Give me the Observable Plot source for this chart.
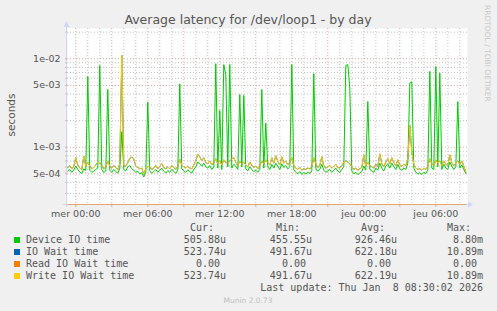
<!DOCTYPE html>
<html><head><meta charset="utf-8">
<script src="https://cdn.jsdelivr.net/npm/d3@7"></script>
<script src="https://cdn.jsdelivr.net/npm/@observablehq/plot@0.6"></script>
<style>
html,body{margin:0;padding:0;background:#F0F0F0;}
#chart{width:497px;height:311px;overflow:hidden;}
svg{display:block;}
</style></head><body><div id="chart"></div>
<script>
// Sampling: 10-minute steps, hours relative to Wednesday 00:00
const startHour = -2/3;
const stepHour = 1/6;

// Device IO time (microseconds)
const deviceIO = [
  535, 560, 520, 550, 610, 560, 525, 505, 570, 545,
  6300, 550, 520, 535, 560, 580, 8400, 560, 515, 540,
  4500, 550, 520, 560, 530, 510, 570, 1500, 560, 540,
  600, 620, 570, 550, 520, 535, 500, 515, 460, 520,
  3230, 540, 505, 530, 560, 520, 550, 580, 535, 510,
  545, 520, 560, 535, 505, 550, 5200, 570, 540, 520,
  555, 530, 510, 560, 600, 680, 650, 610, 660, 600,
  580, 620, 560, 600, 8800, 580, 2600, 560, 8600, 6600,
  600, 8600, 580, 640, 610, 560, 3950, 600, 3850, 570,
  540, 600, 560, 530, 550, 520, 560, 4500, 580, 1870,
  600, 560, 640, 580, 660, 610, 560, 650, 590, 620,
  570, 600, 8600, 560, 520, 500, 530, 490, 515, 500,
  520, 505, 540, 6800, 580, 535, 560, 640, 550, 520,
  540, 560, 520, 550, 580, 535, 520, 560, 600, 8400,
  8600, 4650, 540, 500, 520, 490, 510, 530, 610, 550,
  3280, 560, 540, 520, 580, 550, 660, 580, 540, 610,
  650, 580, 660, 600, 560, 640, 570, 550, 580, 560,
  660, 5300, 5500, 580, 520, 500, 515, 490, 520, 505,
  550, 7200, 580, 560, 8200, 600, 6900, 560, 640, 580,
  560, 680, 610, 560, 600, 3280, 580, 630, 560, 506
];

// Write IO Wait time (microseconds)
const writeWait = [
  590, 620, 570, 610, 760, 630, 580, 560, 790, 610,
  680, 610, 570, 590, 630, 680, 660, 620, 570, 600,
  700, 610, 580, 620, 590, 560, 650, 10890, 620, 610,
  670, 750, 770, 740, 610, 590, 570, 580, 495, 570,
  610, 600, 560, 580, 620, 570, 610, 650, 590, 570,
  600, 570, 620, 590, 560, 610, 730, 630, 600, 580,
  610, 580, 570, 630, 700, 830, 780, 700, 760, 670,
  650, 700, 630, 670, 740, 650, 700, 630, 720, 670,
  660, 700, 740, 760, 670, 620, 700, 650, 680, 630,
  600, 680, 620, 590, 610, 570, 620, 700, 650, 720,
  670, 630, 760, 660, 800, 690, 630, 780, 660, 700,
  630, 670, 760, 620, 580, 560, 590, 550, 570, 560,
  580, 570, 600, 760, 650, 590, 620, 780, 610, 580,
  600, 620, 580, 610, 640, 590, 580, 620, 680, 700,
  680, 650, 600, 560, 580, 550, 570, 590, 820, 610,
  680, 620, 600, 580, 640, 610, 840, 650, 600, 680,
  740, 650, 760, 670, 620, 720, 630, 610, 640, 620,
  740, 1760, 880, 640, 580, 560, 570, 550, 580, 560,
  610, 740, 650, 620, 720, 660, 700, 620, 700, 640,
  620, 820, 670, 620, 660, 700, 640, 700, 610, 524
];

// IO Wait time equals Write IO Wait (no reads); Read IO Wait is zero throughout
const ioWait = writeWait.slice();
const readWait = Array(deviceIO.length).fill(0);

// Axes
const yTicks = [5e-4, 1e-3, 5e-3, 1e-2];
const yTickLabels = ["5e-04", "1e-03", "5e-03", "1e-02"];
const yMinorGrid = [3e-4, 4e-4, 6e-4, 7e-4, 8e-4, 9e-4, 2e-3, 3e-3, 4e-3, 6e-3, 7e-3, 8e-3, 9e-3, 2e-2];
const xLabelHours = [0, 6, 12, 18, 24, 30];
const xLabels = ["mer 00:00", "mer 06:00", "mer 12:00", "mer 18:00", "jeu 00:00", "jeu 06:00"];
const xMajorGrid = [0, 3, 6, 9, 12, 15, 18, 21, 24, 27, 30];
const xMinorGrid = [1, 2, 4, 5, 7, 8, 10, 11, 13, 14, 16, 17, 19, 20, 22, 23, 25, 26, 28, 29, 31, 32];
const xDomain = [-0.69, 32.64];
const yDomain = [2.25e-4, 2.2e-2];

// Legend
const seriesNames = ["Device IO time", "IO Wait time", "Read IO Wait time", "Write IO Wait time"];
const seriesColors = ["#00CC00", "#0066B3", "#FF8000", "#FFCC00"];
const colHeaders = ["Cur:", "Min:", "Avg:", "Max:"];
const curVals = ["505.88u", "523.74u", "  0.00 ", "523.74u"];
const minVals = ["455.55u", "491.67u", "  0.00 ", "491.67u"];
const avgVals = ["926.46u", "622.18u", "  0.00 ", "622.19u"];
const maxVals = ["  8.80m", " 10.89m", "  0.00 ", " 10.89m"];
const titleText = "Average latency for /dev/loop1 - by day";
const yLabel = "seconds";
const lastUpdate = "Last update: Thu Jan  8 08:30:02 2026";
const watermark = "Munin 2.0.73";
const sideText = "RRDTOOL / TOBI OETIKER";

(function () {
const rows = deviceIO.map((v, i) => ({
  t: startHour + i * stepHour,
  dev: v * 1e-6,
  io: ioWait[i] * 1e-6,
  rd: readWait[i] * 1e-6,
  wr: writeWait[i] * 1e-6
}));

const minorCol = "#C4C4C4";
const majorCol = "#E4A6A6";

const plot = Plot.plot({
  width: 497, height: 311,
  marginLeft: 67, marginRight: 30, marginTop: 28, marginBottom: 107,
  style: {background: "transparent", fontFamily: "DejaVu Sans", fontSize: "9.5px", color: "#555", overflow: "visible"},
  x: {type: "linear", domain: xDomain, label: null},
  y: {type: "log", domain: yDomain, label: null},
  marks: [
    Plot.frame({fill: "#FFFFFF", stroke: null}),
    Plot.ruleY(yMinorGrid, {stroke: minorCol, strokeDasharray: "1,2"}),
    Plot.ruleX(xMinorGrid, {stroke: minorCol, strokeDasharray: "1,2"}),
    Plot.ruleY(yTicks, {stroke: majorCol, strokeDasharray: "1,2"}),
    Plot.ruleX(xMajorGrid, {stroke: majorCol, strokeDasharray: "1,2"}),
    Plot.axisY({ticks: yMinorGrid, tickSize: 2, tickFormat: () => "", stroke: minorCol}),
    Plot.axisY({ticks: yTicks, tickSize: 2, tickFormat: () => "", stroke: majorCol}),
    Plot.axisX({ticks: xMajorGrid, tickSize: 3, tickFormat: () => "", stroke: majorCol}),
    Plot.lineY(rows, {x: "t", y: "dev", stroke: seriesColors[0], strokeWidth: 1}),
    Plot.lineY(rows, {x: "t", y: "io", stroke: seriesColors[1], strokeWidth: 1}),
    Plot.lineY(rows, {x: "t", y: d => Math.max(d.rd, yDomain[0]), stroke: seriesColors[2], strokeWidth: 1, strokeOpacity: 0.6}),
    Plot.lineY(rows, {x: "t", y: "wr", stroke: seriesColors[3], strokeWidth: 1}),
    Plot.axisY({ticks: yTicks, tickFormat: d => yTickLabels[yTicks.indexOf(d)], tickSize: 0, tickPadding: 7, fill: "#555"}),
    Plot.axisX({ticks: xLabelHours, tickFormat: d => xLabels[xLabelHours.indexOf(d)], tickSize: 0, tickPadding: 6, fill: "#555"})
  ]
});
document.getElementById("chart").appendChild(plot);

const svg = d3.select(plot);
const xs = plot.scale("x"), ys = plot.scale("y");
const pLeft = xs.range[0], pRight = xs.range[1];
const pTop = ys.range[1], pBottom = ys.range[0];
const axisCol = "#CFD6F8";

svg.insert("line", "g").attr("x1", pLeft - 0.5).attr("x2", pLeft - 0.5).attr("y1", pTop - 5).attr("y2", pBottom + 3)
  .attr("stroke", axisCol);
svg.insert("line", "g").attr("x1", pLeft - 4).attr("x2", pRight + 3).attr("y1", pBottom + 0.5).attr("y2", pBottom + 0.5)
  .attr("stroke", axisCol);
svg.append("path").attr("d", `M${pLeft - 3.5},${pTop - 1}L${pLeft + 2.5},${pTop - 1}L${pLeft - 0.5},${pTop - 7}Z`).attr("fill", axisCol);
svg.append("path").attr("d", `M${pRight + 1},${pBottom - 2.5}L${pRight + 1},${pBottom + 3.5}L${pRight + 6},${pBottom + 0.5}Z`).attr("fill", axisCol);

svg.append("text").attr("x", 248).attr("y", 24).attr("text-anchor", "middle")
  .attr("font-family", "DejaVu Sans").attr("font-size", "12.5px").attr("fill", "#555").text(titleText);

svg.append("text").attr("transform", "translate(15,115) rotate(-90)").attr("text-anchor", "middle")
  .attr("font-family", "DejaVu Sans").attr("font-size", "10.5px").attr("fill", "#555").text(yLabel);

svg.append("text").attr("transform", "translate(485,5) rotate(90)").attr("text-anchor", "start")
  .attr("font-family", "DejaVu Sans").attr("font-size", "7.5px").attr("fill", "#C8C8C8").text(sideText);

const mono = "DejaVu Sans Mono";
const headStarts = [190, 276, 361, 447];
const colEnds = [226, 312, 397, 483];
colHeaders.forEach((h, j) => {
  svg.append("text").attr("x", headStarts[j]).attr("y", 231).attr("text-anchor", "start")
    .attr("font-family", mono).attr("font-size", "10px").attr("fill", "#555").text(h);
});
const cols = [curVals, minVals, avgVals, maxVals];
seriesNames.forEach((name, i) => {
  const by = 243 + i * 12;
  svg.append("rect").attr("x", 14).attr("y", by - 6).attr("width", 6).attr("height", 6).attr("fill", seriesColors[i]);
  svg.append("text").attr("x", 26).attr("y", by).attr("text-anchor", "start")
    .attr("font-family", mono).attr("font-size", "10px").attr("fill", "#555").text(name);
  cols.forEach((col, j) => {
    svg.append("text").attr("x", colEnds[j]).attr("y", by).attr("text-anchor", "end")
      .attr("xml:space", "preserve").style("white-space", "pre")
      .attr("font-family", mono).attr("font-size", "10px").attr("fill", "#555").text(col[i]);
  });
});
svg.append("text").attr("x", 483).attr("y", 291).attr("text-anchor", "end")
  .attr("xml:space", "preserve").style("white-space", "pre")
  .attr("font-family", mono).attr("font-size", "10px").attr("fill", "#555").text(lastUpdate);
svg.append("text").attr("x", 248).attr("y", 303).attr("text-anchor", "middle")
  .attr("font-family", "DejaVu Sans").attr("font-size", "7.5px").attr("fill", "#C0C0C0").text(watermark);
})();
</script>
</body></html>
